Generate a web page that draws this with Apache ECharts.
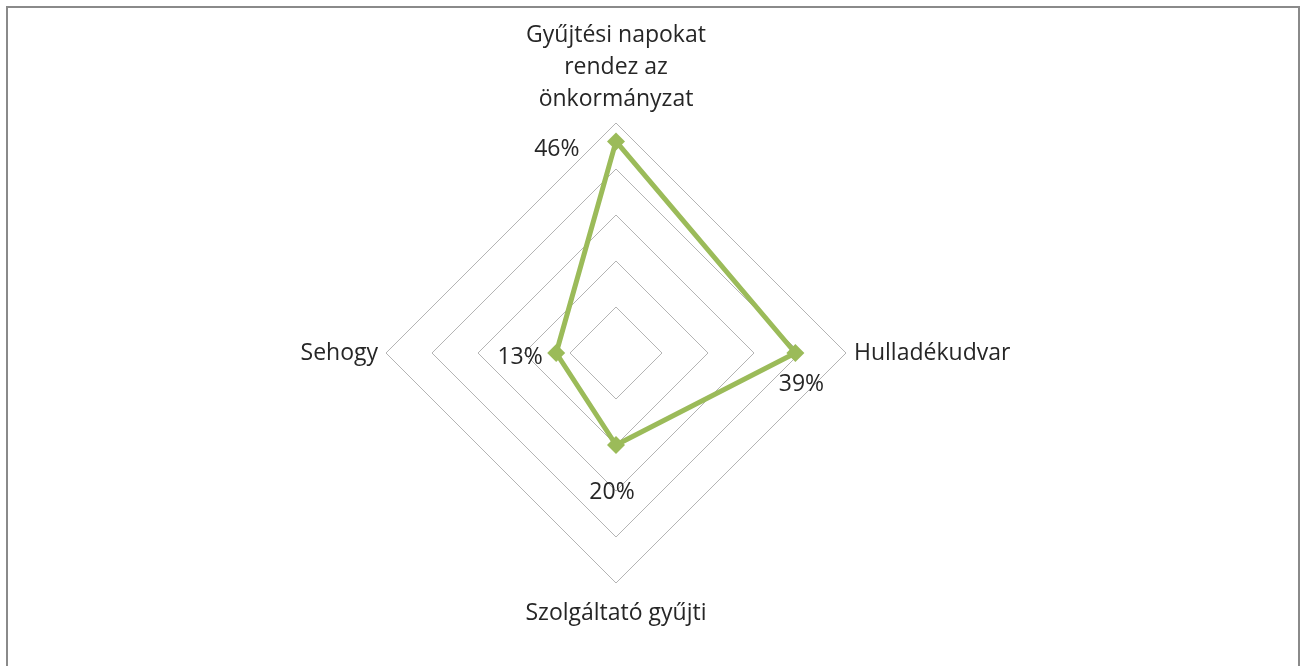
<!DOCTYPE html>
<html>
<head>
<meta charset="utf-8">
<script src="https://cdn.jsdelivr.net/npm/echarts@6/dist/echarts.min.js"></script>
<style>
html,body{margin:0;padding:0;background:#fff;}
#frame{position:absolute;left:6px;top:6px;width:1290px;height:700px;border-left:2px solid #8a8a8a;border-top:2px solid #8a8a8a;border-right:2px solid #8a8a8a;}
#chart{position:absolute;left:0;top:0;width:1304px;height:666px;}
</style>
</head>
<body>
<div id="frame"></div>
<div id="chart"></div>
<script>
// Indicators listed counter-clockwise starting at the top (ECharts radar order)
const categories = ['Gyűjtési napokat\nrendez az\nönkormányzat', 'Sehogy', 'Szolgáltató gyűjti', 'Hulladékudvar'];
const values = [46, 13, 20, 39];
const maxValue = 50;
const splitCount = 5;

const labelPlacement = [
  {position: 'left', distance: 36, offset: [0, 8]},
  {position: 'left', distance: 13, offset: [0, 4]},
  {position: 'bottom', distance: 35, offset: [-4, 0]},
  {position: 'bottom', distance: 19, offset: [6, 0]}
];

const green = '#9BBB59';
const chart = echarts.init(document.getElementById('chart'), null, {renderer: 'canvas'});

const seriesData = [{
  value: values,
  symbol: 'diamond',
  symbolSize: 18,
  lineStyle: {color: green, width: 5},
  itemStyle: {color: green},
  label: {show: false}
}];
labelPlacement.forEach((p, i) => {
  seriesData.push({
    name: 'lbl' + i,
    value: values,
    symbol: 'circle',
    symbolSize: 1,
    lineStyle: {width: 0, color: 'transparent'},
    itemStyle: {color: 'transparent'},
    label: {
      show: true,
      position: p.position,
      distance: p.distance,
      offset: p.offset,
      color: '#262626',
      fontSize: 23,
      fontFamily: 'Open Sans',
      formatter: function (params) {
        return params.value === values[i] ? params.value + '%' : '';
      }
    }
  });
});

chart.setOption({
  animation: false,
  radar: {
    center: [616, 353],
    radius: 230,
    startAngle: 90,
    shape: 'polygon',
    splitNumber: splitCount,
    indicator: categories.map(c => ({name: c, max: maxValue, min: 0})),
    axisName: {
      color: '#262626',
      fontSize: 23,
      fontFamily: 'Open Sans',
      lineHeight: 32,
      padding: [6, 0, 0, 0]
    },
    nameGap: 8,
    axisLine: {show: false},
    axisTick: {show: false},
    axisLabel: {show: false},
    splitArea: {show: false},
    splitLine: {lineStyle: {color: '#B4B4B4', width: 1}}
  },
  series: [{
    type: 'radar',
    silent: true,
    data: seriesData
  }]
});
</script>
</body>
</html>
